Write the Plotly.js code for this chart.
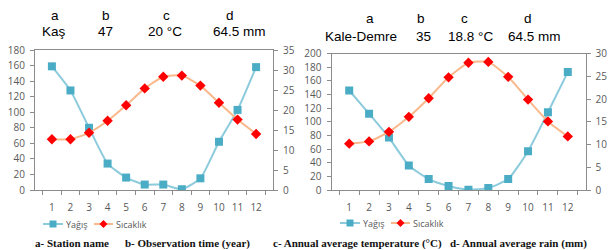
<!DOCTYPE html>
<html><head><meta charset="utf-8">
<script src="https://cdn.plot.ly/plotly-3.0.1.min.js"></script>
<style>html,body{margin:0;padding:0;background:#fff}#c{width:611px;height:250px}</style>
</head><body><div id="c"></div>
<script>
const months = ["1","2","3","4","5","6","7","8","9","10","11","12"];
const kasRain = [159, 128, 80, 34, 16, 7, 7, 1, 15, 62, 103, 158];
const kasTemp = [12.7, 12.7, 14.3, 17.3, 21.2, 25.4, 28.3, 28.6, 26.1, 21.8, 17.6, 14.0];
const demreRain = [146, 112, 77, 36, 16, 6, 0.5, 3, 16, 57, 114, 173];
const demreTemp = [10.2, 10.7, 12.8, 16.1, 20.2, 24.8, 28.0, 28.2, 24.9, 19.9, 15.1, 11.8];
const kasHeader = ["Kaş", "47", "20 °C", "64.5 mm"];
const demreHeader = ["Kale-Demre", "35", "18.8 °C", "64.5 mm"];
const headerLetters = ["a", "b", "c", "d"];
const captions = ["a- Station name", "b- Observation time (year)", "c- Annual average temperature (°C)", "d- Annual average rain (mm)"];
const seriesNames = ["Yağış", "Sıcaklık"];

const W = 611, H = 250;
const px = x => x / W, py = y => (H - y) / H;
const axisCol = '#8c8c8c', tickFont = {family: 'Open Sans', size: 10, color: '#595959'};
const blueC = '#4bacc6', blueL = '#8ccbdc', redC = '#ff0000', redL = '#f9b98c';
const blueLine = {color: blueL, width: 2, shape: 'spline', smoothing: 0.5};
const blueMarker = {symbol: 'square', size: 8, color: blueC};
const redLine = {color: redL, width: 2, shape: 'spline', smoothing: 0.5};
const redMarker = {symbol: 'diamond', size: 8, color: redC};

const traces = [
  {x: months, y: kasRain, name: seriesNames[0], type: 'scatter', mode: 'lines+markers', line: blueLine, marker: blueMarker, xaxis: 'x', yaxis: 'y'},
  {x: months, y: kasTemp, name: seriesNames[1], type: 'scatter', mode: 'lines+markers', line: redLine, marker: redMarker, xaxis: 'x', yaxis: 'y2'},
  {x: months, y: demreRain, name: seriesNames[0], type: 'scatter', mode: 'lines+markers', line: blueLine, marker: blueMarker, xaxis: 'x2', yaxis: 'y3'},
  {x: months, y: demreTemp, name: seriesNames[1], type: 'scatter', mode: 'lines+markers', line: redLine, marker: redMarker, xaxis: 'x2', yaxis: 'y4'}
];

function xax(d0, d1, anchor) {
  return {domain: [px(d0), px(d1)], anchor: anchor, type: 'category', tickson: 'boundaries',
    ticks: 'outside', ticklen: 4, tickcolor: axisCol, showline: true, linecolor: axisCol, linewidth: 1,
    mirror: true, showgrid: false, zeroline: false, tickfont: tickFont, tickangle: 0, ticklabelstandoff: 8, fixedrange: true};
}
function yax(top, bottom, range, dtick, anchor, side, overlay) {
  const a = {domain: [py(bottom), py(top)], anchor: anchor, range: range, dtick: dtick, ticks: 'outside', ticklen: 4,
    tickcolor: axisCol, showline: true, linecolor: axisCol, linewidth: 1, showgrid: false, zeroline: false,
    tickfont: tickFont, side: side, ticklabelstandoff: 3, fixedrange: true};
  if (overlay) a.overlaying = overlay;
  return a;
}

const ann = [], shapes = [];
const kasLetterX = [55, 106, 166, 230], kasValX = [54, 105, 165, 239];
const demLetterX = [370, 421, 464, 528], demValX = [361, 423, 470, 534];
const hFont = {family: 'Liberation Sans', size: 13.5, color: '#000'};
for (let i = 0; i < 4; i++) {
  ann.push({text: headerLetters[i], x: px(kasLetterX[i]), y: py(16), xref: 'paper', yref: 'paper', showarrow: false, xanchor: 'center', yanchor: 'middle', borderpad: 0, font: hFont});
  ann.push({text: kasHeader[i], x: px(kasValX[i]), y: py(31), xref: 'paper', yref: 'paper', showarrow: false, xanchor: 'center', yanchor: 'middle', borderpad: 0, font: hFont});
  ann.push({text: headerLetters[i], x: px(demLetterX[i]), y: py(19), xref: 'paper', yref: 'paper', showarrow: false, xanchor: 'center', yanchor: 'middle', borderpad: 0, font: hFont});
  ann.push({text: demreHeader[i], x: px(demValX[i]), y: py(36), xref: 'paper', yref: 'paper', showarrow: false, xanchor: 'center', yanchor: 'middle', borderpad: 0, font: hFont});
}
const capX = [34, 124, 272, 449];
for (let i = 0; i < 4; i++) {
  ann.push({text: '<b>' + captions[i] + '</b>', x: px(capX[i]), y: py(243), xref: 'paper', yref: 'paper', showarrow: false, xanchor: 'left', yanchor: 'middle', borderpad: 0,
    font: {family: 'Liberation Serif', size: 11, color: '#111'}});
}

// hand-drawn legends (short Excel-style keys)
const legFont = {family: 'Open Sans', size: 9, color: '#595959'};
function legend(x0, y) {
  // rain key
  shapes.push({type: 'line', xref: 'paper', yref: 'paper', x0: px(x0), x1: px(x0 + 20), y0: py(y), y1: py(y), line: {color: blueL, width: 2}});
  const cx = x0 + 10;
  shapes.push({type: 'rect', xref: 'paper', yref: 'paper', x0: px(cx - 3.5), x1: px(cx + 3.5), y0: py(y + 3.5), y1: py(y - 3.5), fillcolor: blueC, line: {width: 0}});
  ann.push({text: seriesNames[0], x: px(x0 + 22), y: py(y), xref: 'paper', yref: 'paper', showarrow: false, xanchor: 'left', yanchor: 'middle', borderpad: 0, font: legFont});
  // temperature key
  const x1 = x0 + 51;
  shapes.push({type: 'line', xref: 'paper', yref: 'paper', x0: px(x1), x1: px(x1 + 19), y0: py(y), y1: py(y), line: {color: redL, width: 2}});
  const dx = x1 + 9.5;
  shapes.push({type: 'path', xref: 'paper', yref: 'paper', fillcolor: redC, line: {width: 0},
    path: `M ${px(dx - 4)},${py(y)} L ${px(dx)},${py(y - 4)} L ${px(dx + 4)},${py(y)} L ${px(dx)},${py(y + 4)} Z`});
  ann.push({text: seriesNames[1], x: px(x1 + 21), y: py(y), xref: 'paper', yref: 'paper', showarrow: false, xanchor: 'left', yanchor: 'middle', borderpad: 0, font: legFont});
}
legend(43, 224);
legend(340, 223);

const layout = {
  width: W, height: H, margin: {l: 0, r: 0, t: 0, b: 0}, paper_bgcolor: '#fff', plot_bgcolor: '#fff',
  xaxis: xax(35, 273, 'y'),
  yaxis: yax(50, 190, [0, 180], 20, 'x', 'left'),
  yaxis2: yax(50, 190, [0, 35], 5, 'x', 'right', 'y'),
  xaxis2: xax(331.5, 585.5, 'y3'),
  yaxis3: yax(53.7, 190, [0, 200], 20, 'x2', 'left'),
  yaxis4: yax(53.7, 190, [0, 30], 5, 'x2', 'right', 'y3'),
  annotations: ann,
  shapes: shapes,
  showlegend: false
};
Plotly.newPlot('c', traces, layout, {staticPlot: true, displayModeBar: false});
</script></body></html>
